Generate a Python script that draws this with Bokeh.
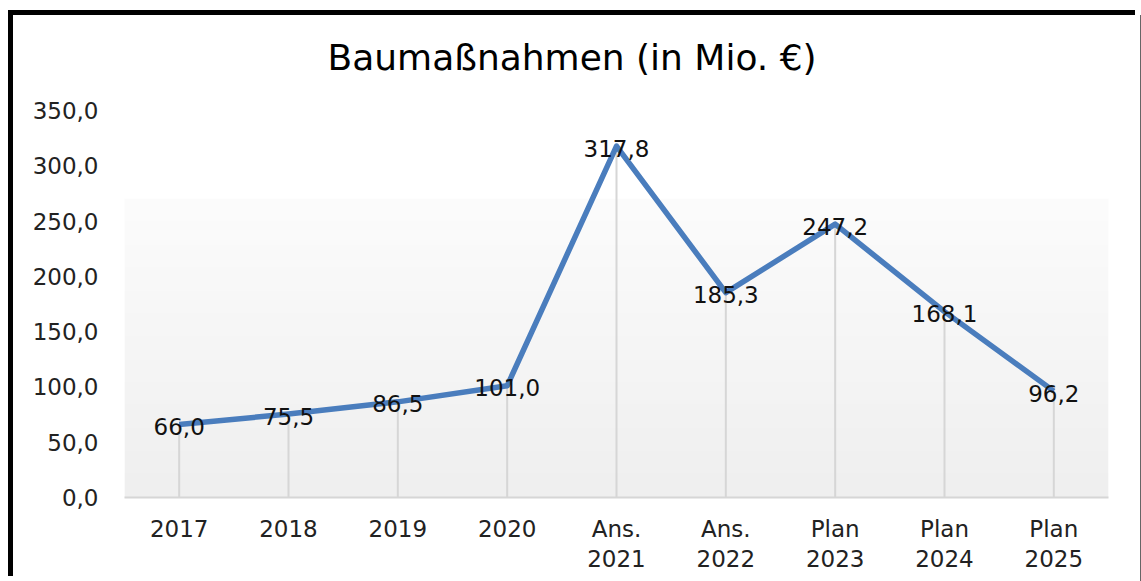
import numpy as np
from bokeh.plotting import figure
from bokeh.models import Range1d, FixedTicker, ColumnDataSource, Title
from bokeh.core.properties import value
from bokeh.embed import file_html
from bokeh.resources import INLINE

# ---- data ----
categories = ["2017", "2018", "2019", "2020", "Ans.\n2021", "Ans.\n2022",
              "Plan\n2023", "Plan\n2024", "Plan\n2025"]
values = [66.0, 75.5, 86.5, 101.0, 317.8, 185.3, 247.2, 168.1, 96.2]
y_ticks = [0, 50, 100, 150, 200, 250, 300, 350]
title_text = "Baumaßnahmen  (in Mio. €)"

FONT = "DejaVu Sans"
W, H = 1127, 566

xs = list(range(len(categories)))
labels = [f"{v:.1f}".replace(".", ",") for v in values]
src = ColumnDataSource(dict(x=xs, y=values, zero=[0] * len(values), label=labels))

p = figure(width=W, height=H, output_backend="svg", toolbar_location=None,
           x_range=Range1d(-0.5, len(categories) - 0.5), y_range=Range1d(0, 350),
           min_border_left=111, min_border_right=32, min_border_top=95, min_border_bottom=84)

p.background_fill_color = "#ffffff"
p.border_fill_color = "#ffffff"
p.outline_line_color = None
p.grid.visible = False

# spacer panel between frame and title, then the title itself
p.add_layout(Title(text=" ", text_font_size="10px", standoff=0), "above")
p.add_layout(Title(text=title_text, align="left", offset=203, standoff=39,
                   text_font=FONT, text_font_size="36px", text_font_style="normal",
                   text_color="#000000"), "above")

# subtle gradient band in the plot area
n = 200
g = np.linspace(0, 1, n)[:, None]
top_c, bot_c = 252, 239
shade = (bot_c + (top_c - bot_c) * g).astype(np.uint32)
img = np.empty((n, 2), dtype=np.uint32)
img[:] = (255 << 24) | (shade << 16) | (shade << 8) | shade
p.image_rgba(image=[img], x=-0.5, y=0, dw=len(categories), dh=270, level="image")

# drop lines
p.segment(x0="x", y0="zero", x1="x", y1="y", source=src, line_color="#d6d6d6", line_width=2)

# main line
p.line("x", "y", source=src, line_color="#4a7dbd", line_width=5.5, line_join="round")

# data labels
p.text("x", "y", text="label", source=src, text_align="center", text_baseline="middle",
       text_font=value(FONT), text_font_size="23px", text_color="#111111", y_offset=2)

# axes
xa = p.xaxis[0]
xa.ticker = FixedTicker(ticks=xs)
xa.major_label_overrides = {i: c for i, c in enumerate(categories)}
xa.major_label_text_font = FONT
xa.major_label_text_font_size = "23px"
xa.major_label_text_color = "#222222"
xa.major_label_text_line_height = 1.18
xa.major_label_standoff = 12
xa.major_tick_line_color = None
xa.minor_tick_line_color = None
xa.axis_line_color = "#d6d6d6"
xa.axis_line_width = 2

ya = p.yaxis[0]
ya.ticker = FixedTicker(ticks=y_ticks)
ya.major_label_overrides = {t: f"{t:.1f}".replace(".", ",") for t in y_ticks}
ya.major_label_text_font = FONT
ya.major_label_text_font_size = "23px"
ya.major_label_text_color = "#222222"
ya.major_label_standoff = 20
ya.major_tick_line_color = None
ya.minor_tick_line_color = None
ya.axis_line_color = None

p.styles = {"margin-left": "13px", "margin-top": "15px",
            "box-shadow": "-5px -5px 0 0 #000000, 2px 0 0 0 #666666"}

open("out.html", "w").write(file_html(p, INLINE))
